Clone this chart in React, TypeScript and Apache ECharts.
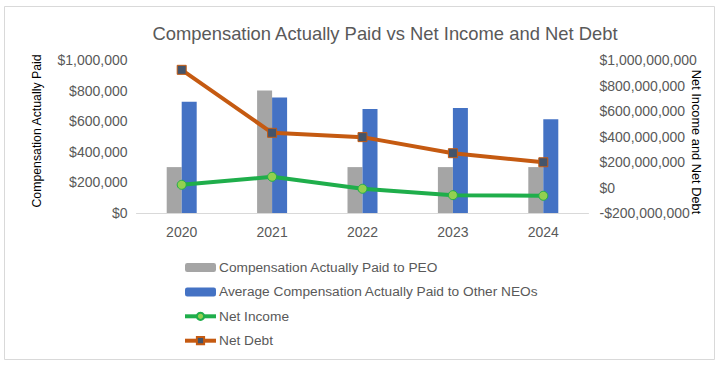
import React, { useEffect, useRef } from "react";
import * as echarts from "echarts";

const years = ["2020", "2021", "2022", "2023", "2024"];
const capPEO = [300000, 800000, 300000, 300000, 300000];
const capOtherNEOs = [727000, 755000, 680000, 686000, 612000];
const netIncome = [21000000, 84000000, -10000000, -60000000, -65000000];
const netDebt = [923000000, 429000000, 395000000, 269000000, 198000000];

const fmtMoney = (v: number) => {
  const s = "$" + Math.abs(v).toLocaleString("en-US");
  return v < 0 ? "-" + s : s;
};

export default function App() {
  const ref = useRef<HTMLDivElement>(null);
  useEffect(() => {
    if (!ref.current) return;
    const chart = echarts.init(ref.current, null, { renderer: "svg" });
    const font = "Liberation Sans, Arial, sans-serif";
    chart.setOption({
      animation: false,
      backgroundColor: "#ffffff",
      textStyle: { fontFamily: font },
      title: {
        text: "Compensation Actually Paid vs Net Income and Net Debt",
        left: 380,
        textAlign: "center",
        top: 19,
        textStyle: { fontSize: 18.4, fontWeight: "normal", color: "#595959", fontFamily: font },
      },
      graphic: [
        {
          type: "rect",
          shape: { x: 4.5, y: 6.5, width: 710, height: 353 },
          style: { fill: "none", stroke: "#d9d9d9", lineWidth: 1 },
          silent: true,
        },
        {
          type: "text",
          x: 36.7,
          y: 131,
          rotation: Math.PI / 2,
          style: {
            text: "Compensation Actually Paid",
            fontSize: 12.3,
            fontFamily: font,
            fill: "#000000",
            align: "center",
            verticalAlign: "middle",
          },
        },
        {
          type: "text",
          x: 696,
          y: 142,
          rotation: -Math.PI / 2,
          style: {
            text: "Net Income and Net Debt",
            fontSize: 12.8,
            fontFamily: font,
            fill: "#000000",
            align: "center",
            verticalAlign: "middle",
          },
        },
      ],
      legend: {
        orient: "vertical",
        left: 178,
        top: 255.5,
        itemWidth: 31,
        itemHeight: 9,
        itemGap: 10.4,
        textStyle: { fontSize: 13.7, color: "#595959", fontFamily: font, padding: [0, 0, 0, -2] },
        data: [
          { name: "Compensation Actually Paid to PEO" },
          { name: "Average Compensation Actually Paid to Other NEOs" },
          { name: "Net Income", lineStyle: { width: 4 } },
          { name: "Net Debt", lineStyle: { width: 4 } },
        ],
      },
      grid: { left: 136.5, right: 132.5, top: 60, bottom: 152 },
      xAxis: {
        type: "category",
        data: years,
        axisLine: { lineStyle: { color: "#d9d9d9" } },
        axisTick: { show: false },
        axisLabel: { fontSize: 14, color: "#595959", margin: 12, fontFamily: font },
      },
      yAxis: [
        {
          type: "value",
          min: 0,
          max: 1000000,
          interval: 200000,
          splitLine: { show: false },
          axisLine: { show: false },
          axisTick: { show: false },
          axisLabel: { fontSize: 14, color: "#595959", margin: 9, formatter: fmtMoney, fontFamily: font },
        },
        {
          type: "value",
          min: -200000000,
          max: 1000000000,
          interval: 200000000,
          splitLine: { show: false },
          axisLine: { show: false },
          axisTick: { show: false },
          axisLabel: { fontSize: 14, color: "#595959", margin: 11, formatter: fmtMoney, fontFamily: font },
        },
      ],
      series: [
        {
          name: "Compensation Actually Paid to PEO",
          type: "bar",
          data: capPEO,
          barWidth: 15,
          barGap: "0%",
          itemStyle: { color: "#a5a5a5" },
        },
        {
          name: "Average Compensation Actually Paid to Other NEOs",
          type: "bar",
          data: capOtherNEOs,
          barWidth: 15,
          barGap: "0%",
          itemStyle: { color: "#4472c4" },
        },
        {
          name: "Net Income",
          type: "line",
          yAxisIndex: 1,
          data: netIncome,
          symbol: "circle",
          symbolSize: 9,
          lineStyle: { color: "#1fae4b", width: 4 },
          itemStyle: { color: "#92d050", borderColor: "#1fae4b", borderWidth: 1 },
        },
        {
          name: "Net Debt",
          type: "line",
          yAxisIndex: 1,
          data: netDebt,
          symbol: "rect",
          symbolSize: 9,
          lineStyle: { color: "#c55a11", width: 4 },
          itemStyle: { color: "#44546a", borderColor: "#c55a11", borderWidth: 1 },
        },
      ],
    });
    return () => chart.dispose();
  }, []);
  return (
    <div
      ref={ref}
      style={{ position: "fixed", left: 0, top: 0, width: 721, height: 365 }}
    />
  );
}
